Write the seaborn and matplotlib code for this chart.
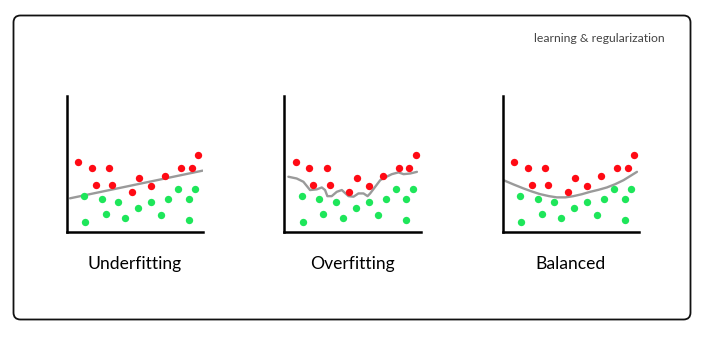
import matplotlib
matplotlib.use("Agg")
import matplotlib.pyplot as plt
from matplotlib.patches import FancyBboxPatch
import seaborn as sns
import pandas as pd

sns.set_theme(style="white")
plt.rcParams['font.family'] = ['Lato', 'DejaVu Sans']

# ---- data (shared sample points, 0-10 scale) ----
red_x = [0.85, 1.84, 3.11, 2.13, 3.35, 4.78, 5.34, 6.18, 7.23, 8.40, 9.16, 9.65]
red_y = [5.15, 4.66, 4.66, 3.43, 3.43, 2.94, 3.93, 3.36, 4.12, 4.66, 4.66, 5.64]
green_x = [1.29, 2.57, 3.79, 2.87, 1.35, 4.29, 5.26, 6.18, 6.91, 7.43, 8.18, 8.94, 8.94, 9.41]
green_y = [2.65, 2.40, 2.21, 1.32, 0.69, 0.99, 1.72, 2.21, 1.23, 2.40, 3.14, 2.40, 0.86, 3.12]

under_x = [0.24, 9.98]
under_y = [2.46, 4.50]

over_x = [0.30, 0.91, 1.40, 1.89, 2.38, 2.75, 2.99, 3.16, 3.48, 3.85, 4.22, 4.71, 5.08,
          5.44, 5.81, 6.11, 6.30, 6.67, 7.04, 7.40, 7.89, 8.38, 8.75, 9.24, 9.73]
over_y = [4.05, 3.92, 3.68, 3.07, 3.12, 3.26, 3.07, 2.62, 2.62, 2.94, 3.07, 2.62, 2.58,
          2.82, 2.82, 2.62, 2.82, 3.31, 3.80, 4.00, 4.24, 4.37, 4.24, 4.29, 4.41]

bal_x = [0.05, 0.80, 1.52, 2.15, 2.74, 3.40, 3.97, 4.60, 5.19, 5.80, 6.42, 7.04, 7.64, 8.25, 8.87, 9.85]
bal_y = [3.80, 3.48, 3.19, 2.96, 2.77, 2.62, 2.53, 2.53, 2.62, 2.76, 2.94, 3.09, 3.26, 3.50, 3.80, 4.41]

titles = ["Underfitting", "Overfitting", "Balanced"]
header = "learning & regularization"

curves = [(under_x, under_y), (over_x, over_y), (bal_x, bal_y)]

RED = "#ff0a14"
GREEN = "#1ee65a"
GRAY = "#9a9a9a"

W, H = 708, 338
fig = plt.figure(figsize=(W / 100, H / 100), dpi=100)
fig.patch.set_facecolor("white")

# background frame in pixel coordinates
bg = fig.add_axes([0, 0, 1, 1])
bg.set_xlim(0, W)
bg.set_ylim(H, 0)
bg.axis("off")
bg.add_patch(FancyBboxPatch((13.5, 15.5), 677, 304, boxstyle="round,pad=0,rounding_size=7",
                            fill=False, edgecolor="#111111", linewidth=1.3))
bg.text(665, 38, header, ha="right", va="center", fontsize=8.8, color="#444444")

lefts = [66.7, 284.3, 502.7]
red_df = pd.DataFrame({"x": red_x, "y": red_y})
green_df = pd.DataFrame({"x": green_x, "y": green_y})

for left, (cx, cy), title in zip(lefts, curves, titles):
    ax = fig.add_axes([left / W, (H - 231.7) / H, 136.3 / W, 135.7 / H])
    ax.set_xlim(0, 10)
    ax.set_ylim(0, 10)
    sns.lineplot(x=cx, y=cy, ax=ax, color=GRAY, linewidth=1.7, sort=False, zorder=1)
    sns.scatterplot(data=red_df, x="x", y="y", ax=ax, color=RED, s=28, linewidth=0, zorder=3)
    sns.scatterplot(data=green_df, x="x", y="y", ax=ax, color=GREEN, s=28, linewidth=0, zorder=3)
    ax.set_xticks([])
    ax.set_yticks([])
    ax.set_xlabel("")
    ax.set_ylabel("")
    for sp in ["top", "right"]:
        ax.spines[sp].set_visible(False)
    for sp in ["left", "bottom"]:
        ax.spines[sp].set_visible(True)
        ax.spines[sp].set_color("black")
        ax.spines[sp].set_linewidth(1.8)
    ax.set_facecolor("none")
    cxp = left + 136.3 / 2
    bg.text(cxp, 264, title, ha="center", va="center", fontsize=12.6, color="black")

fig.savefig("out.png", dpi=100)
